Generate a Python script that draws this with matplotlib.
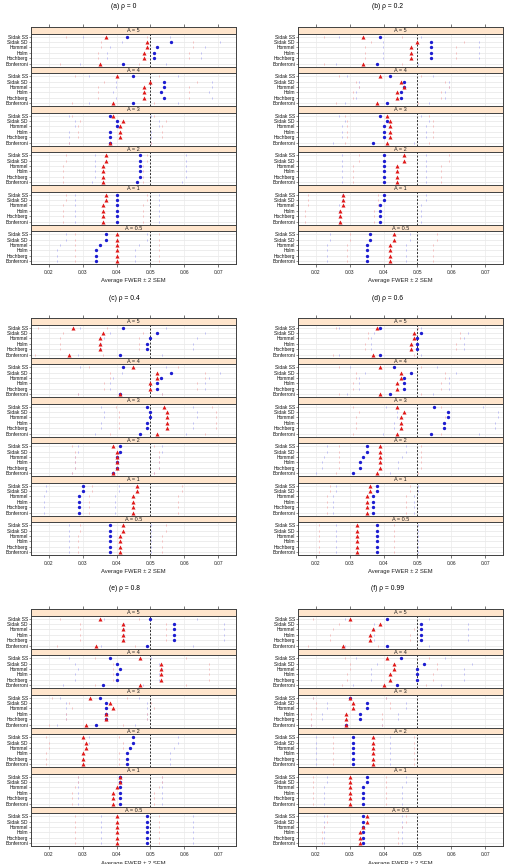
import matplotlib
matplotlib.use('Agg')
import matplotlib.pyplot as plt
import numpy as np

plt.rcParams['font.family'] = ['Liberation Sans', 'DejaVu Sans']

methods = ['Sidak SS', 'Sidak SD', 'Hommel', 'Holm', 'Hochberg', 'Bonferroni']
strips = ['A = 5', 'A = 4', 'A = 3', 'A = 2', 'A = 1', 'A = 0.5']
titles = ['(a) \u03c1 = 0', '(b) \u03c1 = 0.2', '(c) \u03c1 = 0.4',
          '(d) \u03c1 = 0.6', '(e) \u03c1 = 0.8', '(f) \u03c1 = 0.99']
x_ticks = [0.02, 0.03, 0.04, 0.05, 0.06, 0.07]
x_labels = ['0.02', '0.03', '0.04', '0.05', '0.06', '0.07']
alpha_level = 0.05

# average FWER, rows = strips (A = 5 ... 0.5), columns = methods
red_a = [[0.037, 0.049, 0.049, 0.048, 0.048, 0.035],
         [0.040, 0.050, 0.048, 0.048, 0.048, 0.039],
         [0.039, 0.042, 0.041, 0.041, 0.041, 0.038],
         [0.037, 0.037, 0.036, 0.036, 0.036, 0.036],
         [0.037, 0.037, 0.036, 0.036, 0.036, 0.036],
         [0.040, 0.040, 0.040, 0.040, 0.040, 0.040]]
blue_a = [[0.043, 0.056, 0.052, 0.051, 0.051, 0.042],
          [0.045, 0.054, 0.054, 0.053, 0.054, 0.045],
          [0.038, 0.040, 0.040, 0.038, 0.038, 0.038],
          [0.047, 0.047, 0.047, 0.047, 0.047, 0.046],
          [0.040, 0.040, 0.040, 0.040, 0.040, 0.040],
          [0.037, 0.037, 0.035, 0.034, 0.034, 0.034]]
red_b = [[0.034, 0.050, 0.048, 0.048, 0.048, 0.034],
         [0.039, 0.045, 0.046, 0.044, 0.044, 0.038],
         [0.041, 0.042, 0.042, 0.042, 0.042, 0.041],
         [0.046, 0.046, 0.044, 0.044, 0.044, 0.044],
         [0.028, 0.028, 0.028, 0.027, 0.027, 0.027],
         [0.043, 0.043, 0.042, 0.042, 0.042, 0.042]]
blue_b = [[0.039, 0.054, 0.054, 0.054, 0.054, 0.038],
          [0.042, 0.046, 0.046, 0.045, 0.045, 0.041],
          [0.039, 0.041, 0.040, 0.040, 0.040, 0.037],
          [0.040, 0.040, 0.040, 0.040, 0.040, 0.040],
          [0.040, 0.040, 0.039, 0.039, 0.039, 0.039],
          [0.036, 0.036, 0.035, 0.035, 0.035, 0.035]]
red_c = [[0.027, 0.036, 0.035, 0.035, 0.035, 0.026],
         [0.045, 0.052, 0.052, 0.050, 0.050, 0.041],
         [0.054, 0.055, 0.055, 0.055, 0.055, 0.052],
         [0.039, 0.040, 0.040, 0.040, 0.040, 0.039],
         [0.046, 0.046, 0.045, 0.045, 0.045, 0.045],
         [0.042, 0.042, 0.041, 0.041, 0.041, 0.041]]
blue_c = [[0.042, 0.052, 0.050, 0.049, 0.049, 0.041],
          [0.042, 0.056, 0.053, 0.052, 0.052, 0.041],
          [0.049, 0.050, 0.050, 0.049, 0.049, 0.047],
          [0.041, 0.041, 0.040, 0.040, 0.040, 0.039],
          [0.030, 0.030, 0.029, 0.029, 0.029, 0.029],
          [0.038, 0.038, 0.038, 0.038, 0.038, 0.038]]
red_d = [[0.038, 0.049, 0.049, 0.048, 0.048, 0.037],
         [0.039, 0.045, 0.045, 0.044, 0.044, 0.039],
         [0.044, 0.046, 0.045, 0.045, 0.045, 0.044],
         [0.039, 0.039, 0.039, 0.039, 0.039, 0.038],
         [0.036, 0.036, 0.035, 0.035, 0.035, 0.035],
         [0.032, 0.032, 0.032, 0.032, 0.032, 0.032]]
blue_d = [[0.039, 0.051, 0.050, 0.050, 0.050, 0.039],
          [0.043, 0.048, 0.046, 0.046, 0.046, 0.042],
          [0.055, 0.059, 0.059, 0.058, 0.058, 0.054],
          [0.035, 0.035, 0.034, 0.033, 0.033, 0.031],
          [0.038, 0.038, 0.037, 0.037, 0.037, 0.037],
          [0.038, 0.038, 0.038, 0.038, 0.038, 0.038]]
red_e = [[0.035, 0.042, 0.042, 0.042, 0.042, 0.034],
         [0.047, 0.053, 0.053, 0.053, 0.053, 0.047],
         [0.032, 0.038, 0.039, 0.037, 0.037, 0.031],
         [0.030, 0.031, 0.031, 0.030, 0.030, 0.030],
         [0.041, 0.041, 0.040, 0.039, 0.039, 0.039],
         [0.040, 0.040, 0.040, 0.040, 0.040, 0.040]]
blue_e = [[0.050, 0.057, 0.057, 0.057, 0.057, 0.049],
          [0.038, 0.040, 0.041, 0.040, 0.040, 0.036],
          [0.035, 0.037, 0.037, 0.037, 0.037, 0.034],
          [0.045, 0.045, 0.044, 0.043, 0.043, 0.043],
          [0.041, 0.041, 0.041, 0.041, 0.041, 0.041],
          [0.049, 0.049, 0.049, 0.049, 0.049, 0.049]]
red_f = [[0.030, 0.039, 0.037, 0.036, 0.036, 0.028],
         [0.041, 0.043, 0.043, 0.042, 0.042, 0.040],
         [0.030, 0.031, 0.031, 0.029, 0.029, 0.029],
         [0.037, 0.037, 0.037, 0.037, 0.037, 0.037],
         [0.030, 0.030, 0.030, 0.030, 0.030, 0.030],
         [0.035, 0.035, 0.034, 0.033, 0.033, 0.033]]
blue_f = [[0.041, 0.051, 0.051, 0.051, 0.051, 0.041],
          [0.045, 0.052, 0.050, 0.050, 0.050, 0.044],
          [0.030, 0.035, 0.035, 0.033, 0.033, 0.029],
          [0.031, 0.031, 0.031, 0.031, 0.031, 0.031],
          [0.035, 0.035, 0.034, 0.034, 0.034, 0.034],
          [0.034, 0.034, 0.034, 0.034, 0.034, 0.034]]

# 2 SEM half widths (units of 1e-4), same layout as the means
red_hw_a = [[119, 137, 137, 135, 135, 116], [124, 138, 135, 135, 135, 122],
            [122, 127, 125, 125, 125, 121], [119, 119, 118, 118, 118, 118],
            [119, 119, 118, 118, 118, 118], [124, 124, 124, 124, 124, 124]]
blue_hw_a = [[128, 145, 140, 139, 139, 127], [131, 143, 143, 142, 143, 131],
             [121, 124, 124, 121, 121, 121], [134, 134, 134, 134, 134, 132],
             [124, 124, 124, 124, 124, 124], [119, 119, 116, 115, 115, 115]]
red_hw_b = [[115, 138, 135, 135, 135, 115], [122, 131, 132, 130, 130, 121],
            [125, 127, 127, 127, 127, 125], [132, 132, 130, 130, 130, 130],
            [104, 104, 104, 103, 103, 103], [128, 128, 127, 127, 127, 127]]
blue_hw_b = [[122, 143, 143, 143, 143, 121], [127, 132, 132, 131, 131, 125],
             [122, 125, 124, 124, 124, 119], [124, 124, 124, 124, 124, 124],
             [124, 124, 122, 122, 122, 122], [118, 118, 116, 116, 116, 116]]
red_hw_c = [[103, 118, 116, 116, 116, 101], [131, 140, 140, 138, 138, 125],
            [143, 144, 144, 144, 144, 140], [122, 124, 124, 124, 124, 122],
            [132, 132, 131, 131, 131, 131], [127, 127, 125, 125, 125, 125]]
blue_hw_c = [[127, 140, 138, 137, 137, 125], [127, 145, 142, 140, 140, 125],
             [137, 138, 138, 137, 137, 134], [125, 125, 124, 124, 124, 122],
             [108, 108, 106, 106, 106, 106], [121, 121, 121, 121, 121, 121]]
red_hw_d = [[121, 137, 137, 135, 135, 119], [122, 131, 131, 130, 130, 122],
            [130, 132, 131, 131, 131, 130], [122, 122, 122, 122, 122, 121],
            [118, 118, 116, 116, 116, 116], [111, 111, 111, 111, 111, 111]]
blue_hw_d = [[122, 139, 138, 138, 138, 122], [128, 135, 132, 132, 132, 127],
             [144, 149, 149, 148, 148, 143], [116, 116, 115, 113, 113, 110],
             [121, 121, 119, 119, 119, 119], [121, 121, 121, 121, 121, 121]]
red_hw_e = [[116, 127, 127, 127, 127, 115], [134, 142, 142, 142, 142, 134],
            [111, 121, 122, 119, 119, 110], [108, 110, 110, 108, 108, 108],
            [125, 125, 124, 122, 122, 122], [124, 124, 124, 124, 124, 124]]
blue_hw_e = [[138, 147, 147, 147, 147, 137], [121, 124, 125, 124, 124, 118],
             [116, 119, 119, 119, 119, 115], [131, 131, 130, 128, 128, 128],
             [125, 125, 125, 125, 125, 125], [137, 137, 137, 137, 137, 137]]
red_hw_f = [[108, 122, 119, 118, 118, 104], [125, 128, 128, 127, 127, 124],
            [108, 110, 110, 106, 106, 106], [119, 119, 119, 119, 119, 119],
            [108, 108, 108, 108, 108, 108], [116, 116, 115, 113, 113, 113]]
blue_hw_f = [[125, 139, 139, 139, 139, 125], [131, 140, 138, 138, 138, 130],
             [108, 116, 116, 113, 113, 106], [110, 110, 110, 110, 110, 110],
             [116, 116, 115, 115, 115, 115], [115, 115, 115, 115, 115, 115]]

panels = [(red_a, blue_a, red_hw_a, blue_hw_a), (red_b, blue_b, red_hw_b, blue_hw_b),
          (red_c, blue_c, red_hw_c, blue_hw_c), (red_d, blue_d, red_hw_d, blue_hw_d),
          (red_e, blue_e, red_hw_e, blue_hw_e), (red_f, blue_f, red_hw_f, blue_hw_f)]

W, H = 511, 864
fig = plt.figure(figsize=(W / 100, H / 100), dpi=100)

frame_col = '#404040'
strip_col = '#ffe5cc'
xlim = (0.0147, 0.0753)
ypos = np.arange(6, 0, -1)


def add_ax(x0, top, w, h):
  return fig.add_axes([x0 / W, 1 - (top + h) / H, w / W, h / H])


def style_spines(ax):
  for s in ax.spines.values():
    s.set_color(frame_col)
    s.set_linewidth(0.7)


for p, (red, blue, rhw, bhw) in enumerate(panels):
  col, row = p % 2, p // 2
  x0 = [31, 298][col]
  pw = 205
  top = 27 + 291 * row
  group_h = 237 / 6.0
  strip_h = 6.7

  fig.text([124, 388][col] / W, 1 - (top - 20) / H, titles[p],
           ha='center', va='center', fontsize=4.9)
  fig.text((x0 + pw / 2) / W, 1 - (top + 237 + 17) / H, 'Average FWER \u00b1 2 SEM',
           ha='center', va='center', fontsize=4.2, color='#222222')

  for g in range(6):
    gt = top + g * group_h
    sax = add_ax(x0, gt, pw, strip_h)
    sax.set_facecolor(strip_col)
    sax.set_xlim(xlim)
    sax.set_yticks([])
    sax.text(0.5, 0.45, strips[g], transform=sax.transAxes, ha='center',
             va='center', fontsize=4.0, color='#222222')
    style_spines(sax)
    if g == 0:
      sax.set_xticks(x_ticks)
      sax.tick_params(axis='x', top=True, bottom=False, labeltop=False,
                      labelbottom=False, length=2, width=0.5, color=frame_col)
    else:
      sax.set_xticks([])

    dax = add_ax(x0, gt + strip_h, pw, group_h - strip_h)
    dax.set_xlim(xlim)
    dax.set_ylim(0.45, 6.55)
    for yy in ypos:
      dax.axhline(yy, color='#e6e6e6', lw=0.5, zorder=1)
    for t in x_ticks:
      dax.axvline(t, color='#eaeaea', lw=0.5, zorder=1)
    dax.axvline(alpha_level, color='#303030', lw=0.7, ls=(0, (2, 1.6)), zorder=2)

    rm = np.array(red[g])
    bm = np.array(blue[g])
    rh = np.array(rhw[g]) * 1e-4
    bh = np.array(bhw[g]) * 1e-4
    dax.plot(np.r_[bm - bh, bm + bh], np.r_[ypos, ypos], '|', color='#aaaaf2',
             ms=2.0, mew=0.5, zorder=3)
    dax.plot(np.r_[rm - rh, rm + rh], np.r_[ypos, ypos], '|', color='#f2aaaa',
             ms=2.0, mew=0.5, zorder=3)
    dax.plot(bm, ypos, 'o', color='#1c1cd0', ms=2.4, mew=0, zorder=4)
    dax.plot(rm, ypos, '^', color='#e01818', ms=2.9, mew=0, zorder=5)

    dax.set_yticks(ypos)
    dax.set_yticklabels(methods, fontsize=3.5, color='#111111')
    dax.tick_params(axis='y', length=1.2, width=0.4, pad=1, color=frame_col)
    style_spines(dax)
    if g == 5:
      dax.set_xticks(x_ticks)
      dax.set_xticklabels(x_labels, fontsize=3.5, color='#222222')
      dax.tick_params(axis='x', length=2, width=0.5, pad=2, color=frame_col)
    else:
      dax.set_xticks([])

fig.savefig('out.png', dpi=100)
